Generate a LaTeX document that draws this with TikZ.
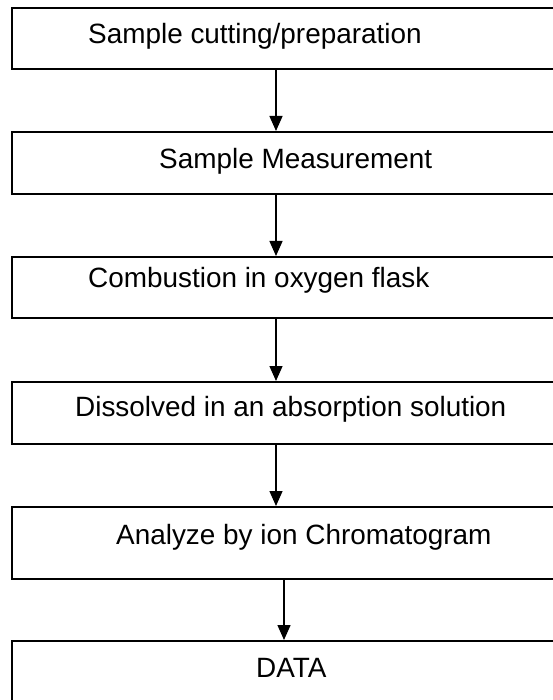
\documentclass[tikz,border=0pt]{standalone}
\usepackage{fontspec}
\setmainfont{Liberation Sans}
\usetikzlibrary{arrows.meta}
\begin{document}
\begin{tikzpicture}[x=1pt,y=-1pt,
  boxstyle/.style={draw=black,line width=1.8pt,rectangle,inner sep=0pt,anchor=north west,minimum width=640pt},
  labelstyle/.style={anchor=base west,inner sep=0pt,font=\fontsize{27.9pt}{30pt}\selectfont},
  flow/.style={line width=1.4pt,-{Triangle[length=15pt,width=13pt]}}]
\clip (0,0) rectangle (553,700);
\fill[white] (0,0) rectangle (553,700);
\node[boxstyle,minimum height=61pt] (b1) at (11,7) {};
\node[boxstyle,minimum height=62pt] (b2) at (11,131) {};
\node[boxstyle,minimum height=61pt] (b3) at (11,256) {};
\node[boxstyle,minimum height=62pt] (b4) at (11,381) {};
\node[boxstyle,minimum height=72pt] (b5) at (11,506) {};
\node[boxstyle,minimum height=100pt] (b6) at (11,640) {};
\node[labelstyle] (t1) at (88,44) {Sample cutting/preparation};
\node[labelstyle] (t2) at (159,169) {Sample Measurement};
\node[labelstyle] (t3) at (88,287) {Combustion in oxygen flask};
\node[labelstyle] (t4) at (75,416) {Dissolved in an absorption solution};
\node[labelstyle] (t5) at (116,544) {Analyze by ion Chromatogram};
\node[labelstyle] (t6) at (256,677) {DATA};
\coordinate (ax) at (276,0);
\coordinate (bx) at (284,0);
\draw[flow] (b1.south -| ax) -- (b2.north -| ax);
\draw[flow] (b2.south -| ax) -- (b3.north -| ax);
\draw[flow] (b3.south -| ax) -- (b4.north -| ax);
\draw[flow] (b4.south -| ax) -- (b5.north -| ax);
\draw[flow] (b5.south -| bx) -- (b6.north -| bx);
\end{tikzpicture}
\end{document}
